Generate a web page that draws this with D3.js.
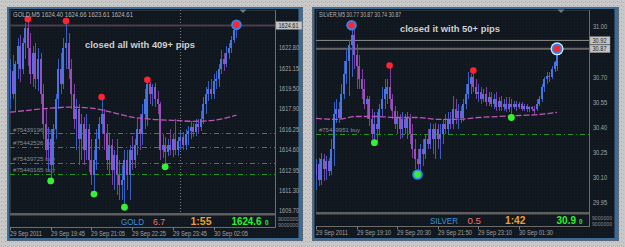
<!DOCTYPE html>
<html>
<head>
<meta charset="utf-8">
<script src="https://cdnjs.cloudflare.com/ajax/libs/d3/7.8.5/d3.min.js"></script>
<style>
  html, body { margin: 0; padding: 0; background: #c8c8c8; }
  svg { display: block; }
  text { font-family: "Liberation Sans", Arial, sans-serif; }
</style>
</head>
<body>
<svg id="chart" width="625" height="247"></svg>
<script>
// ---- GOLD M5 bars (29 Sep 2011 18:25 .. 30 Sep 02:50) ----
var goldOpen = [1618.70, 1620.98, 1619.11, 1621.55, 1622.93, 1621.14, 1623.17, 1624.39, 1622.77, 1620.73,
  1622.36, 1620.33, 1621.95, 1619.11, 1616.67, 1614.64, 1615.45, 1613.42, 1616.26, 1618.70,
  1621.14, 1619.92, 1622.77, 1623.17, 1621.14, 1619.11, 1617.07, 1617.89, 1615.45, 1616.67,
  1614.64, 1616.26, 1613.82, 1612.60, 1613.82, 1615.45, 1616.67, 1617.48, 1615.85, 1613.82,
  1615.04, 1613.01, 1614.23, 1612.60, 1611.79, 1612.20, 1613.82, 1612.60, 1614.64, 1613.82,
  1615.04, 1616.26, 1615.85, 1617.48, 1617.07, 1619.92, 1619.11, 1619.68, 1618.70, 1618.29,
  1614.64, 1615.04, 1614.47, 1615.04, 1614.64, 1615.45, 1614.64, 1615.29, 1615.61, 1615.04,
  1615.85, 1616.10, 1616.42, 1616.02, 1616.67, 1616.42, 1617.07, 1618.29, 1619.11, 1619.51,
  1619.11, 1620.16, 1620.33, 1621.14, 1621.95, 1621.55, 1622.36, 1622.77, 1623.42, 1624.40];
var goldHigh = [1621.95, 1622.20, 1621.79, 1623.58, 1623.82, 1623.58, 1624.80, 1625.12, 1623.98, 1622.93,
  1623.17, 1622.77, 1622.36, 1619.92, 1617.89, 1616.42, 1616.26, 1616.67, 1619.11, 1621.95,
  1622.36, 1623.58, 1624.96, 1623.98, 1621.95, 1619.92, 1618.70, 1618.29, 1617.48, 1617.24,
  1617.48, 1616.67, 1615.45, 1614.64, 1616.26, 1617.24, 1618.86, 1617.89, 1616.67, 1615.85,
  1615.45, 1614.64, 1615.45, 1613.82, 1613.42, 1614.64, 1614.64, 1615.04, 1615.69, 1615.45,
  1617.07, 1617.48, 1618.29, 1619.51, 1620.24, 1620.08, 1619.92, 1620.00, 1619.35, 1618.46,
  1615.85, 1615.61, 1615.45, 1616.26, 1615.85, 1617.07, 1615.61, 1616.10, 1616.02, 1616.26,
  1616.51, 1616.91, 1616.75, 1617.07, 1617.07, 1617.72, 1618.86, 1619.68, 1620.16, 1620.33,
  1620.73, 1620.98, 1621.55, 1622.60, 1622.36, 1622.93, 1623.17, 1623.74, 1624.55, 1624.66];
var goldLow = [1617.89, 1618.70, 1617.64, 1620.33, 1620.08, 1620.73, 1621.95, 1621.38, 1619.92, 1619.68,
  1619.51, 1619.35, 1618.29, 1615.45, 1613.82, 1612.85, 1612.12, 1613.01, 1615.45, 1617.89,
  1619.11, 1619.51, 1621.14, 1620.33, 1617.89, 1616.26, 1614.64, 1613.42, 1613.82, 1613.42,
  1613.82, 1612.85, 1611.79, 1611.06, 1613.01, 1614.64, 1615.85, 1614.64, 1613.01, 1612.60,
  1611.79, 1611.38, 1610.98, 1610.57, 1610.57, 1610.00, 1611.38, 1610.57, 1613.01, 1613.17,
  1614.23, 1614.64, 1615.04, 1616.26, 1616.51, 1618.29, 1618.13, 1618.05, 1617.48, 1613.82,
  1613.98, 1613.25, 1614.15, 1614.23, 1614.07, 1614.23, 1614.15, 1614.64, 1614.64, 1614.64,
  1615.04, 1615.45, 1615.61, 1615.69, 1615.85, 1616.10, 1616.67, 1617.48, 1618.54, 1618.70,
  1618.70, 1619.51, 1619.68, 1620.73, 1620.98, 1621.30, 1621.95, 1622.36, 1623.17, 1623.61];
var goldClose = [1621.14, 1619.11, 1621.55, 1622.93, 1621.14, 1623.17, 1624.39, 1622.77, 1620.73, 1622.36,
  1620.33, 1621.95, 1619.11, 1616.67, 1614.64, 1615.45, 1613.42, 1616.26, 1618.70, 1621.14,
  1619.92, 1622.77, 1623.17, 1621.14, 1619.11, 1617.07, 1617.89, 1615.45, 1616.67, 1614.64,
  1616.26, 1613.82, 1612.60, 1613.82, 1615.45, 1616.67, 1617.48, 1615.85, 1613.82, 1615.04,
  1613.01, 1614.23, 1612.60, 1611.79, 1612.20, 1613.82, 1612.60, 1614.64, 1613.82, 1615.04,
  1616.26, 1615.85, 1617.48, 1618.70, 1619.92, 1619.11, 1619.68, 1618.70, 1618.29, 1614.64,
  1615.04, 1614.47, 1615.04, 1614.64, 1615.45, 1614.64, 1615.29, 1615.61, 1615.04, 1615.85,
  1616.10, 1616.42, 1616.02, 1616.67, 1616.42, 1617.07, 1618.29, 1619.11, 1619.51, 1619.11,
  1620.16, 1620.33, 1621.14, 1621.95, 1621.55, 1622.36, 1622.77, 1623.42, 1624.23, 1624.61];
var goldMaIdx = [0, 8, 16, 24, 32, 40, 48, 56, 64, 72, 80, 89];
var goldMa = [1617.64, 1617.81, 1617.97, 1618.05, 1617.97, 1617.64, 1617.24, 1617.07, 1616.99, 1616.91, 1616.99, 1617.40];
var goldTicks = [1622.80, 1621.15, 1619.50, 1617.90, 1616.25, 1614.60, 1612.95, 1611.30, 1609.70];
var goldBid = 1624.61;
var goldTimeIdx = [0, 16, 32, 48, 64, 80];
var goldTimeLabels = ["29 Sep 2011", "29 Sep 19:45", "29 Sep 21:05", "29 Sep 22:25", "29 Sep 23:45", "30 Sep 02:05"];
var goldSeparator = [67];
var goldOrders = [1615.93, 1614.88, 1613.56, 1612.71];
var goldOrderNames = ["#75439196 buy", "#75442526 buy", "#75439725 buy", "#75440165 buy"];
var goldHighMarks = [7, 22, 36, 54, 89];
var goldLowMarks = [16, 33, 45, 61];
var goldInfo = ["GOLD", "6.7", "1:55", "1624.6", "0"];

// ---- SILVER M5 bars (29 Sep 2011 17:50 .. 30 Sep 02:45) ----
var silverOpen = [30.12, 30.18, 30.09, 30.21, 30.15, 30.20, 30.14, 30.27, 30.48, 30.51,
  30.46, 30.60, 30.72, 30.80, 30.89, 30.95, 30.83, 30.77, 30.69, 30.63,
  30.54, 30.57, 30.45, 30.36, 30.42, 30.39, 30.51, 30.57, 30.60, 30.64,
  30.57, 30.50, 30.42, 30.46, 30.39, 30.45, 30.40, 30.46, 30.36, 30.27,
  30.21, 30.18, 30.27, 30.24, 30.33, 30.30, 30.39, 30.33, 30.39, 30.33,
  30.36, 30.42, 30.39, 30.45, 30.42, 30.51, 30.46, 30.50, 30.46, 30.54,
  30.60, 30.66, 30.70, 30.64, 30.60, 30.61, 30.57, 30.60, 30.55, 30.58,
  30.54, 30.57, 30.52, 30.56, 30.52, 30.54, 30.51, 30.54, 30.52, 30.54,
  30.52, 30.54, 30.51, 30.53, 30.51, 30.52, 30.51, 30.51, 30.54, 30.57,
  30.64, 30.69, 30.71, 30.70, 30.75, 30.77];
var silverHigh = [30.21, 30.22, 30.25, 30.24, 30.23, 30.22, 30.33, 30.55, 30.57, 30.55,
  30.66, 30.80, 30.86, 30.92, 31.01, 30.99, 30.90, 30.83, 30.75, 30.69,
  30.59, 30.59, 30.51, 30.49, 30.49, 30.54, 30.64, 30.69, 30.69, 30.77,
  30.60, 30.53, 30.50, 30.48, 30.49, 30.48, 30.49, 30.48, 30.42, 30.33,
  30.27, 30.30, 30.33, 30.36, 30.39, 30.43, 30.42, 30.43, 30.42, 30.42,
  30.45, 30.48, 30.49, 30.49, 30.59, 30.57, 30.54, 30.53, 30.57, 30.66,
  30.73, 30.72, 30.74, 30.69, 30.66, 30.64, 30.63, 30.64, 30.61, 30.61,
  30.60, 30.61, 30.58, 30.59, 30.57, 30.58, 30.58, 30.57, 30.56, 30.56,
  30.55, 30.55, 30.54, 30.54, 30.53, 30.53, 30.53, 30.57, 30.59, 30.66,
  30.70, 30.73, 30.73, 30.77, 30.80, 30.87];
var silverLow = [30.03, 30.05, 30.06, 30.08, 30.09, 30.11, 30.12, 30.17, 30.43, 30.43,
  30.45, 30.57, 30.66, 30.59, 30.70, 30.75, 30.63, 30.63, 30.57, 30.51,
  30.45, 30.41, 30.33, 30.31, 30.31, 30.36, 30.47, 30.51, 30.54, 30.51,
  30.45, 30.39, 30.36, 30.33, 30.34, 30.36, 30.33, 30.30, 30.22, 30.15,
  30.12, 30.14, 30.17, 30.21, 30.27, 30.27, 30.24, 30.21, 30.27, 30.21,
  30.30, 30.36, 30.36, 30.39, 30.39, 30.42, 30.39, 30.43, 30.44, 30.51,
  30.57, 30.60, 30.61, 30.57, 30.55, 30.54, 30.55, 30.53, 30.53, 30.52,
  30.51, 30.50, 30.50, 30.50, 30.50, 30.49, 30.49, 30.46, 30.51, 30.50,
  30.51, 30.50, 30.50, 30.49, 30.49, 30.50, 30.48, 30.50, 30.53, 30.55,
  30.61, 30.66, 30.67, 30.69, 30.73, 30.74];
var silverClose = [30.18, 30.09, 30.21, 30.15, 30.20, 30.14, 30.27, 30.48, 30.51, 30.46,
  30.60, 30.72, 30.80, 30.89, 30.95, 30.83, 30.77, 30.69, 30.63, 30.54,
  30.57, 30.45, 30.36, 30.42, 30.39, 30.51, 30.57, 30.63, 30.64, 30.57,
  30.50, 30.42, 30.46, 30.39, 30.45, 30.40, 30.46, 30.36, 30.27, 30.21,
  30.18, 30.27, 30.24, 30.33, 30.30, 30.39, 30.33, 30.39, 30.33, 30.36,
  30.42, 30.39, 30.45, 30.42, 30.51, 30.46, 30.50, 30.46, 30.54, 30.60,
  30.66, 30.70, 30.64, 30.60, 30.61, 30.57, 30.60, 30.55, 30.58, 30.54,
  30.57, 30.52, 30.56, 30.52, 30.54, 30.51, 30.54, 30.52, 30.54, 30.52,
  30.54, 30.51, 30.53, 30.51, 30.52, 30.51, 30.50, 30.54, 30.57, 30.64,
  30.69, 30.71, 30.70, 30.75, 30.79, 30.87];
var silverMaIdx = [0, 8, 16, 24, 32, 40, 48, 56, 64, 72, 80, 88, 95];
var silverMa = [30.455, 30.449, 30.466, 30.466, 30.460, 30.460, 30.449, 30.449, 30.460, 30.466, 30.472, 30.478, 30.490];
var silverTicks = [31.00, 30.70, 30.55, 30.40, 30.25, 30.10, 29.95];
var silverBid = 30.87, silverAsk = 30.92;
var silverTimeIdx = [0, 16, 32, 48, 64, 80];
var silverTimeLabels = ["29 Sep 2011", "29 Sep 19:10", "29 Sep 20:30", "29 Sep 21:50", "29 Sep 23:10", "30 Sep 01:30"];
var silverOrders = [30.362];
var silverOrderNames = ["#75449951 buy"];
var silverHighMarks = [14, 29, 62, 95];
var silverLowMarks = [23, 40, 77];
var silverInfo = ["SILVER", "0.5", "1:42", "30.9", "0"];

var W = 625, H = 247;
var svg = d3.select("#chart");
var defs = svg.append("defs");

// desktop speckle + dark chart speckle
var pd = defs.append("pattern").attr("id", "deskDots").attr("width", 4).attr("height", 4).attr("patternUnits", "userSpaceOnUse");
pd.append("rect").attr("width", 4).attr("height", 4).attr("fill", "#c9c9c9");
pd.append("rect").attr("x", 1).attr("y", 1).attr("width", 1).attr("height", 1).attr("fill", "#a8a8a8");
pd.append("rect").attr("x", 3).attr("y", 2).attr("width", 1).attr("height", 1).attr("fill", "#b4b4b4");
var pc = defs.append("pattern").attr("id", "chartDots").attr("width", 3).attr("height", 3).attr("patternUnits", "userSpaceOnUse");
pc.append("rect").attr("width", 3).attr("height", 3).attr("fill", "#10171f");
pc.append("rect").attr("x", 1).attr("y", 1).attr("width", 1).attr("height", 1).attr("fill", "#19212a");

svg.append("rect").attr("width", W).attr("height", H).attr("fill", "url(#deskDots)");

var panels = [
  {
    id: "gold", frame: [7, 7, 303, 241], plot: { left: 10, top: 10, right: 275, bottom: 213 },
    open: goldOpen, high: goldHigh, low: goldLow, close: goldClose,
    maIdx: goldMaIdx, ma: goldMa, ticks: goldTicks, tickFmt: d3.format(".2f"), tickW: 20,
    yDomain: [1609.70, 1622.80], yRange: [211, 48], xStep: 40.7,
    timeIdx: goldTimeIdx, timeLabels: goldTimeLabels, separators: goldSeparator,
    orders: goldOrders, orderNames: goldOrderNames, orderW: 42,
    highMarks: goldHighMarks, lowMarks: goldLowMarks,
    lines: [{ p: goldBid, color: "#4a3d4c", w: 2 }],
    boxes: [{ p: goldBid, label: "1624.61" }],
    header: "GOLD,M5  1624.40 1624.66 1623.61 1624.61", headerW: 120,
    note: "closed all with 409+ pips", noteX: 85, noteY: 48, noteW: 110,
    info: goldInfo, infoX: [121, 153, 190.5, 231.5, 265], infoW: [23, 12, 21, 30, 3.5],
    shiftX: 243
  },
  {
    id: "silver", frame: [312, 7, 619, 241], plot: { left: 316, top: 10, right: 589, bottom: 212 },
    open: silverOpen, high: silverHigh, low: silverLow, close: silverClose,
    maIdx: silverMaIdx, ma: silverMa, ticks: silverTicks, tickFmt: d3.format(".2f"), tickW: 14,
    yDomain: [29.95, 31.00], yRange: [203, 27], xStep: 40.6,
    timeIdx: silverTimeIdx, timeLabels: silverTimeLabels, separators: [],
    orders: silverOrders, orderNames: silverOrderNames, orderW: 41,
    highMarks: silverHighMarks, lowMarks: silverLowMarks,
    lines: [{ p: silverAsk, color: "#8c8c8c", w: 1 }, { p: silverBid, color: "#666666", w: 2 }],
    boxes: [{ p: silverAsk, label: "30.92" }, { p: silverBid, label: "30.87" }],
    header: "SILVER,M5  30.77 30.87 30.74 30.87", headerW: 82,
    note: "closed it with 50+ pips", noteX: 400, noteY: 32, noteW: 100,
    info: silverInfo, infoX: [430, 467.5, 505, 556.5, 579], infoW: [28, 13.5, 20.5, 19.5, 3.5],
    shiftX: 561
  }
];

var infoColors = ["#3f8fd8", "#f07474", "#eca028", "#2cf02c", "#2cf02c"];
var infoSizes = [8.5, 8.6, 10.2, 10, 6.3];

function addText(g, str, x, y, size, color, w, weight) {
  var t = g.append("text").attr("x", x).attr("y", y).attr("font-size", size).attr("fill", color).text(str);
  if (w) t.attr("textLength", w).attr("lengthAdjust", "spacingAndGlyphs");
  if (weight) t.attr("font-weight", weight);
  return t;
}

function drawPanel(c) {
  var g = svg.append("g");
  var fr = c.frame, pl = c.plot;

  // window frame
  g.append("rect").attr("x", fr[0]).attr("y", fr[1]).attr("width", fr[2] - fr[0]).attr("height", fr[3] - fr[1]).attr("fill", "#56687a");
  g.append("rect").attr("x", fr[0] + 1).attr("y", fr[1] + 1).attr("width", fr[2] - fr[0] - 2).attr("height", fr[3] - fr[1] - 2).attr("fill", "#3d6b94");
  g.append("rect").attr("x", fr[0] + 2.5).attr("y", fr[1] + 2).attr("width", fr[2] - fr[0] - 7).attr("height", fr[3] - fr[1] - 5).attr("fill", "url(#chartDots)");

  var x = d3.scaleLinear().domain([0, 16]).range([pl.left, pl.left + c.xStep]);
  var y = d3.scaleLinear().domain(c.yDomain).range(c.yRange);

  defs.append("clipPath").attr("id", "clip-" + c.id).append("rect")
    .attr("x", pl.left).attr("y", pl.top).attr("width", pl.right - pl.left).attr("height", pl.bottom - pl.top);

  // plot outline, price axis, sub-window strip
  g.append("rect").attr("x", pl.left + 0.5).attr("y", pl.top + 0.5).attr("width", pl.right - pl.left).attr("height", pl.bottom - pl.top)
    .attr("fill", "none").attr("stroke", "#2b333d");
  g.append("rect").attr("x", pl.left).attr("y", pl.bottom).attr("width", pl.right - pl.left + 1).attr("height", 2.5).attr("fill", "#5e5e5e");
  g.append("line").attr("x1", pl.right + 0.5).attr("x2", pl.right + 0.5).attr("y1", pl.top).attr("y2", pl.bottom + 14)
    .attr("stroke", "#6c6c6c");
  g.append("line").attr("x1", pl.left).attr("x2", pl.right + 1).attr("y1", pl.bottom + 14.5).attr("y2", pl.bottom + 14.5)
    .attr("stroke", "#6c6c6c");
  addText(g, "9000000", pl.right + 3, pl.bottom + 7.5, 5, "#8a8a8a", 20);
  addText(g, "9000000", pl.right + 3, pl.bottom + 13.5, 5, "#8a8a8a", 20);

  var cg = g.append("g").attr("clip-path", "url(#clip-" + c.id + ")");

  // day separator
  c.separators.forEach(function (s) {
    cg.append("line").attr("x1", Math.round(x(s)) + 0.5).attr("x2", Math.round(x(s)) + 0.5)
      .attr("y1", pl.top).attr("y2", pl.bottom).attr("stroke", "#7a7a7a").attr("stroke-dasharray", "1,2");
  });

  // bid / ask lines
  c.lines.forEach(function (l) {
    cg.append("line").attr("x1", pl.left).attr("x2", pl.right).attr("y1", y(l.p)).attr("y2", y(l.p))
      .attr("stroke", l.color).attr("stroke-width", l.w);
  });

  // order lines
  c.orders.forEach(function (p, k) {
    cg.append("line").attr("x1", pl.left).attr("x2", pl.right).attr("y1", Math.round(y(p)) + 0.5).attr("y2", Math.round(y(p)) + 0.5)
      .attr("stroke", "#259625").attr("stroke-dasharray", "5,3,1,3");
    addText(cg, c.orderNames[k], pl.left + 3, y(p) - 1.5, 6.2, "#8a8a8a", c.orderW);
  });

  // candles
  var idx = d3.range(c.open.length);
  var bars = cg.append("g").attr("shape-rendering", "crispEdges");
  bars.selectAll("rect.wick").data(idx).enter().append("rect").attr("class", "wick")
    .attr("x", function (i) { return Math.round(x(i)); })
    .attr("y", function (i) { return y(c.high[i]); })
    .attr("width", 1)
    .attr("height", function (i) { return Math.max(1, y(c.low[i]) - y(c.high[i])); })
    .attr("fill", function (i) { return c.close[i] >= c.open[i] ? "#3a5fc4" : "#7c3f9c"; });
  bars.selectAll("rect.body").data(idx).enter().append("rect").attr("class", "body")
    .attr("x", function (i) { return Math.round(x(i)) - 1; })
    .attr("y", function (i) { return y(Math.max(c.open[i], c.close[i])); })
    .attr("width", 2)
    .attr("height", function (i) { return Math.max(1, Math.abs(y(c.open[i]) - y(c.close[i]))); })
    .attr("fill", function (i) { return c.close[i] >= c.open[i] ? "#4675e6" : "#9a4fbf"; });

  // moving average
  var maLine = d3.line()
    .x(function (d, k) { return x(c.maIdx[k]); })
    .y(function (d) { return y(d); })
    .curve(d3.curveMonotoneX);
  cg.append("path").datum(c.ma).attr("d", maLine).attr("fill", "none")
    .attr("stroke", "#c052be").attr("stroke-width", 1.3).attr("stroke-dasharray", "6,2");

  // high / low markers
  c.highMarks.forEach(function (i, k) {
    var cx = x(i), cy = y(c.high[i]);
    var last = i === c.open.length - 1;
    if (last && c.id === "silver") g.append("circle").attr("cx", cx).attr("cy", cy).attr("r", 6.5).attr("fill", "#e4ecf4");
    if (last || (c.id === "silver" && k === 0)) g.append("circle").attr("cx", cx).attr("cy", cy).attr("r", 5.3).attr("fill", "#2d86ea");
    g.append("circle").attr("cx", cx).attr("cy", cy).attr("r", 3.3).attr("fill", "#ff2430");
  });
  c.lowMarks.forEach(function (i, k) {
    var cx = x(i), cy = y(c.low[i]);
    if (c.id === "silver" && k === 1) g.append("circle").attr("cx", cx).attr("cy", cy).attr("r", 5.3).attr("fill", "#2d86ea");
    g.append("circle").attr("cx", cx).attr("cy", cy).attr("r", 3.4).attr("fill", "#35f035");
  });

  // chart shift marker
  g.append("path").attr("d", "M" + (c.shiftX - 3.5) + "," + (pl.top - 0.5) + "L" + (c.shiftX + 3.5) + "," + (pl.top - 0.5) + "L" + c.shiftX + "," + (pl.top + 3))
    .attr("fill", "#6f7a86");

  // price axis labels
  c.ticks.forEach(function (t) {
    addText(g, c.tickFmt(t), pl.right + 4, y(t) + 2.3, 6.5, "#a6a6a6", c.tickW);
  });
  c.boxes.forEach(function (b) {
    g.append("rect").attr("x", pl.right + 1).attr("y", y(b.p) - 3.8).attr("width", c.tickW + 6).attr("height", 7.6)
      .attr("fill", "#c4c4c4").attr("stroke", "#8c8c8c").attr("stroke-width", 0.5);
    addText(g, b.label, pl.right + 3.5, y(b.p) + 2.4, 6.5, "#202020", c.tickW);
  });

  // time axis
  c.timeIdx.forEach(function (i, k) {
    var tx = Math.round(x(i)) + 0.5;
    g.append("line").attr("x1", tx).attr("x2", tx).attr("y1", pl.bottom + 14.5).attr("y2", pl.bottom + 17.5).attr("stroke", "#7a7a7a");
    addText(g, c.timeLabels[k], tx - 0.5, pl.bottom + 23, 6.5, "#a2a2a2", k === 0 ? 32 : 34);
  });

  // header + note
  addText(g, c.header, pl.left + 3, pl.top + 6.7, 6.5, "#b4b4b4", c.headerW);
  addText(g, c.note, c.noteX, c.noteY, 9.5, "#cfcfcf", c.noteW, "bold");

  // info strip
  c.info.forEach(function (s, k) {
    addText(g, s, c.infoX[k], pl.bottom + 12, infoSizes[k], infoColors[k], c.infoW[k], k > 1 ? "bold" : null);
  });
}

panels.forEach(drawPanel);
</script>
</body>
</html>
